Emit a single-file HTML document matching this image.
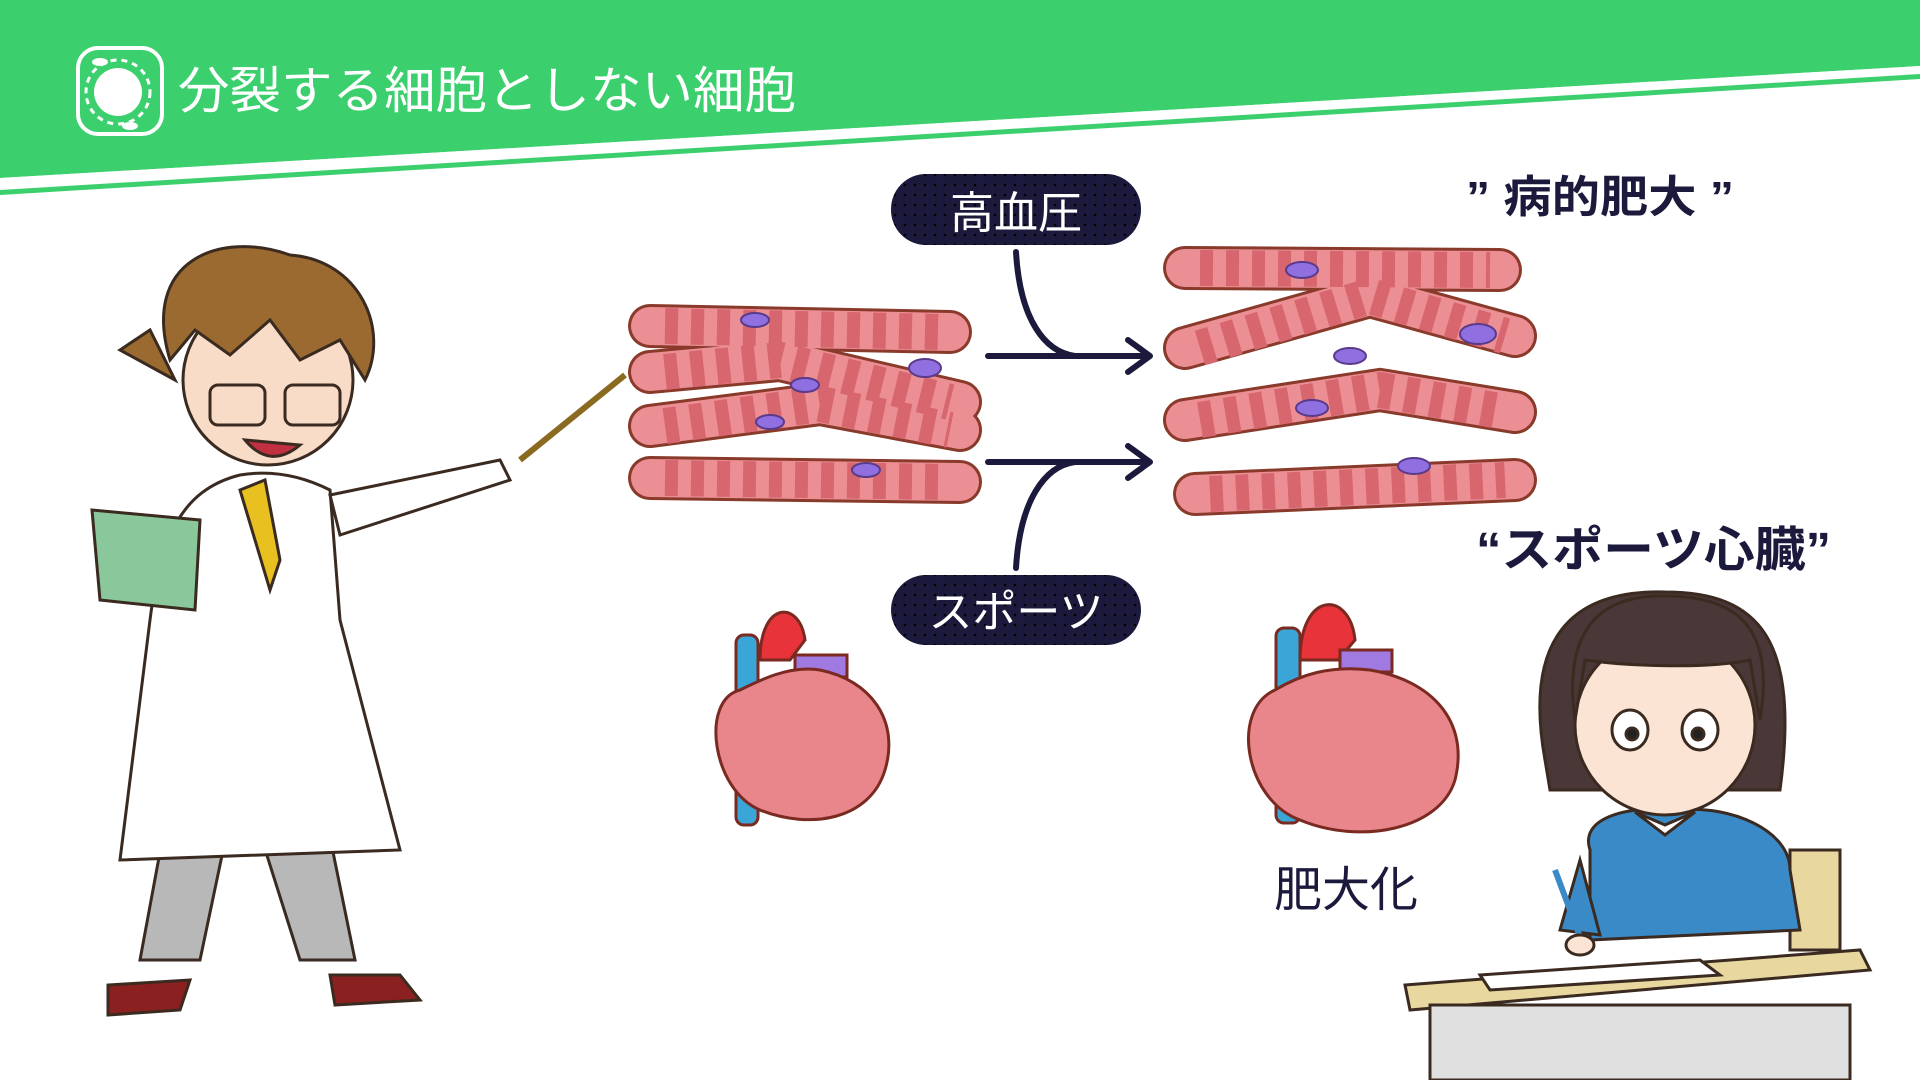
<!DOCTYPE html>
<html><head><meta charset="utf-8"><style>
html,body{margin:0;padding:0;background:#fff;width:1920px;height:1080px;overflow:hidden}
svg{display:block}
text{font-family:"Liberation Sans","Noto Sans CJK JP",sans-serif}
</style></head><body>
<svg width="1920" height="1080" viewBox="0 0 1920 1080" xmlns="http://www.w3.org/2000/svg">
<defs>
<pattern id="dots" width="10" height="10" patternUnits="userSpaceOnUse"><rect width="10" height="10" fill="#1c1a3c"/><circle cx="5" cy="5" r="1.3" fill="#000"/></pattern>
</defs>
<!-- header -->
<polygon points="0,0 1920,0 1920,66 0,178" fill="#3ccf6e"/>
<polygon points="0,178 1920,66 1920,74 0,190" fill="#fff"/>
<polygon points="0,190 1920,74 1920,79 0,195" fill="#3ccf6e"/>
<rect x="78" y="48" width="84" height="86" rx="20" fill="none" stroke="#fff" stroke-width="4"/>
<circle cx="118" cy="92" r="24" fill="#fff"/>
<circle cx="118" cy="92" r="32" fill="none" stroke="#fff" stroke-width="3" stroke-dasharray="6 5"/>
<ellipse cx="100" cy="62" rx="8" ry="4" fill="#fff"/><ellipse cx="130" cy="126" rx="8" ry="4" fill="#fff"/>
<text x="178" y="108" font-size="50" fill="#fff" textLength="618" lengthAdjust="spacingAndGlyphs">分裂する細胞としない細胞</text>

<!-- pills -->
<rect x="891" y="174" width="250" height="71" rx="35" fill="url(#dots)"/>
<text x="1016" y="228" font-size="44" fill="#fff" text-anchor="middle">高血圧</text>
<rect x="891" y="575" width="250" height="70" rx="35" fill="url(#dots)"/>
<text x="1016" y="627" font-size="44" fill="#fff" text-anchor="middle">スポーツ</text>

<!-- arrows -->
<g fill="none" stroke="#1c1a3c" stroke-width="6" stroke-linecap="round" stroke-linejoin="round">
<path d="M988,356 L1148,356"/><path d="M1128,340 L1150,356 L1128,372"/>
<path d="M1016,252 C1020,320 1045,352 1075,356"/>
<path d="M988,462 L1148,462"/><path d="M1128,446 L1150,462 L1128,478"/>
<path d="M1016,568 C1020,500 1045,466 1075,462"/>
</g>

<!-- muscle fibers -->
<g stroke-linecap="round" fill="none">
 <g stroke="#8a3a2a" stroke-width="44">
  <path d="M650,326 L950,332"/><path d="M650,372 L780,360 L960,402"/><path d="M650,426 L820,404 L960,430"/><path d="M650,478 L960,482"/>
  <path d="M1185,268 L1500,270"/><path d="M1185,348 L1370,296 L1515,336"/><path d="M1185,420 L1380,390 L1515,412"/><path d="M1195,494 L1515,480"/>
 </g>
 <g stroke="#ec8f95" stroke-width="38">
  <path d="M650,326 L950,332"/><path d="M650,372 L780,360 L960,402"/><path d="M650,426 L820,404 L960,430"/><path d="M650,478 L960,482"/>
  <path d="M1185,268 L1500,270"/><path d="M1185,348 L1370,296 L1515,336"/><path d="M1185,420 L1380,390 L1515,412"/><path d="M1195,494 L1515,480"/>
 </g>
 <g stroke="#d8666f" stroke-width="36" stroke-dasharray="13 13" stroke-linecap="butt">
  <path d="M665,326 L940,332"/><path d="M665,372 L780,360 L950,402"/><path d="M665,426 L820,404 L950,430"/><path d="M665,478 L950,482"/>
  <path d="M1200,268 L1490,270"/><path d="M1200,348 L1370,296 L1505,336"/><path d="M1200,420 L1380,390 L1505,412"/><path d="M1210,494 L1505,480"/>
 </g>
</g>
<g fill="#9070e0" stroke="#5a3a8a" stroke-width="2">
<ellipse cx="755" cy="320" rx="14" ry="7"/><ellipse cx="925" cy="368" rx="16" ry="9"/><ellipse cx="805" cy="385" rx="14" ry="7"/><ellipse cx="770" cy="422" rx="14" ry="7"/><ellipse cx="866" cy="470" rx="14" ry="7"/>
<ellipse cx="1302" cy="270" rx="16" ry="8"/><ellipse cx="1478" cy="334" rx="18" ry="10"/><ellipse cx="1350" cy="356" rx="16" ry="8"/><ellipse cx="1312" cy="408" rx="16" ry="8"/><ellipse cx="1414" cy="466" rx="16" ry="8"/>
</g>

<!-- texts -->
<text x="1466" y="212" font-size="44" font-weight="bold" fill="#1c1a3c" textLength="268" lengthAdjust="spacingAndGlyphs">” 病的肥大 ”</text>
<text x="1476" y="566" font-size="48" font-weight="bold" fill="#1c1a3c" textLength="355" lengthAdjust="spacingAndGlyphs">“スポーツ心臓”</text>
<text x="1274" y="906" font-size="48" fill="#1c1a3c">肥大化</text>

<!-- hearts -->
<g stroke="#7a2a20" stroke-width="3">
 <rect x="736" y="635" width="22" height="190" rx="8" fill="#3aa6d8"/>
 <path d="M760,660 C760,600 800,600 805,640 L790,660 Z" fill="#e8333a"/>
 <rect x="795" y="655" width="52" height="22" fill="#a07ae0"/>
 <path d="M740,690 C700,700 712,790 760,810 C810,830 870,820 885,770 C900,720 870,680 820,670 C790,665 760,680 740,690 Z" fill="#e8868c"/>
 <rect x="1276" y="628" width="24" height="195" rx="8" fill="#3aa6d8"/>
 <path d="M1300,660 C1300,590 1350,590 1355,640 L1338,660 Z" fill="#e8333a"/>
 <rect x="1340" y="650" width="52" height="22" fill="#a07ae0"/>
 <path d="M1275,690 C1230,710 1245,800 1300,820 C1360,845 1440,830 1455,780 C1470,720 1430,680 1370,670 C1330,665 1300,675 1275,690 Z" fill="#e8868c"/>
</g>

<!-- teacher -->
<g stroke="#3a2a20" stroke-width="3">
 <path d="M190,690 L140,960 L200,960 L240,770 L300,960 L355,960 L300,690 Z" fill="#b8b8b8"/>
 <path d="M108,985 L108,1015 L180,1010 L190,980 Z" fill="#8a2020"/>
 <path d="M330,975 L335,1005 L420,1000 L400,975 Z" fill="#8a2020"/>
 <path d="M240,475 C180,490 160,540 150,620 L120,860 L400,850 L340,620 L330,490 C300,475 270,470 240,475 Z" fill="#fff"/>
 <path d="M330,495 L500,460 L510,480 L340,535 Z" fill="#fff"/>
 <path d="M240,490 L265,480 L280,560 L270,590 Z" fill="#e8c020"/>
 <path d="M92,510 L200,520 L195,610 L100,600 Z" fill="#8ac79a"/>
 <path d="M520,460 L625,375" stroke="#8a6a20" stroke-width="6"/>
 <circle cx="268" cy="380" r="85" fill="#f8dcc8"/>
 <path d="M170,360 C140,260 220,230 290,255 C360,260 390,330 365,380 L340,340 L300,360 L270,320 L230,355 L195,330 Z" fill="#9a6a30"/>
 <path d="M175,380 L120,350 L150,330 Z" fill="#9a6a30"/>
 <rect x="210" y="385" width="55" height="40" rx="8" fill="none"/><rect x="285" y="385" width="55" height="40" rx="8" fill="none"/>
 <path d="M245,440 Q270,470 300,445 Z" fill="#c03040"/>
</g>

<!-- student -->
<g stroke="#3a2a20" stroke-width="3">
 <rect x="1790" y="850" width="50" height="100" fill="#e8d8a0"/>
 <path d="M1590,850 C1580,820 1620,805 1680,810 C1730,805 1790,830 1790,870 L1800,930 L1590,940 Z" fill="#3a8ac8"/>
 <path d="M1580,860 L1560,930 L1600,935 Z" fill="#3a8ac8"/>
 <path d="M1545,760 C1520,620 1590,590 1665,592 C1760,592 1800,640 1780,790 L1550,790 Z" fill="#4a3838"/>
 <circle cx="1665" cy="725" r="90" fill="#fbe4d4"/>
 <path d="M1575,720 C1560,610 1620,595 1665,596 C1740,596 1775,630 1760,720 L1750,660 C1700,670 1620,665 1585,660 Z" fill="#4a3838"/>
 <ellipse cx="1630" cy="730" rx="18" ry="20" fill="#fff"/><ellipse cx="1700" cy="730" rx="18" ry="20" fill="#fff"/>
 <circle cx="1632" cy="734" r="6" fill="#222"/><circle cx="1698" cy="734" r="6" fill="#222"/>
 <path d="M1635,812 L1665,825 L1695,812 L1665,835 Z" fill="#fff"/>
 <path d="M1405,985 L1860,950 L1870,970 L1410,1010 Z" fill="#e8d8a0"/>
 <rect x="1430" y="1005" width="420" height="75" fill="#e0e0e0"/>
 <path d="M1480,975 L1700,960 L1720,975 L1490,990 Z" fill="#fff"/>
 <path d="M1555,870 L1585,950" stroke="#3a8ac8" stroke-width="6"/>
 <ellipse cx="1580" cy="945" rx="14" ry="10" fill="#fbe4d4"/>
</g>
</svg>
</body></html>
